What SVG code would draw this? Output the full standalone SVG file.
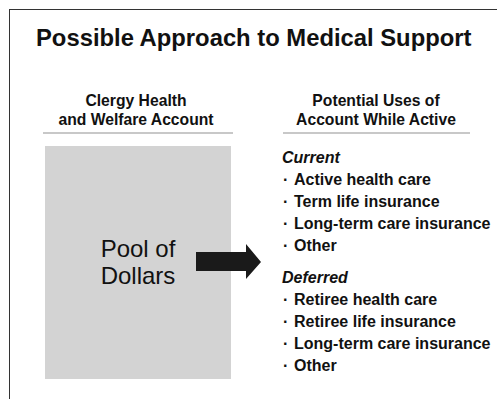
<svg xmlns="http://www.w3.org/2000/svg" width="497" height="399" viewBox="0 0 497 399">
<style>
text{font-family:"Liberation Sans",Arial,Helvetica,sans-serif;fill:#111}
.title{font-size:23.8px;font-weight:bold}
.hdr{font-size:15.7px;font-weight:bold;text-anchor:middle}
.cat{font-size:16px;font-weight:bold;font-style:italic}
.item{font-size:16px;font-weight:bold}
.pool{font-size:24px;text-anchor:middle}
.rule{stroke:#c8c8c8;stroke-width:2}
</style>
<rect x="9.5" y="9.5" width="500" height="400" fill="#fff" stroke="#333" stroke-width="1"/>
<text class="title" x="36" y="46">Possible Approach to Medical Support</text>
<g id="left-column">
<text class="hdr" x="136" y="106">Clergy Health</text>
<text class="hdr" x="136" y="125">and Welfare Account</text>
<line class="rule" x1="43" y1="133" x2="233" y2="133"/>
</g>
<g id="pool">
<rect x="45" y="146" width="186" height="233" fill="#d3d3d3"/>
<text class="pool" x="138" y="257">Pool of</text>
<text class="pool" x="138" y="284">Dollars</text>
</g>
<g id="connectors">
<path d="M196,252 H246 V244 L261,262 L246,279 V271 H196 Z" fill="#1a1a1a"/>
</g>
<g id="uses">
<text class="hdr" x="376" y="106">Potential Uses of</text>
<text class="hdr" x="376" y="125">Account While Active</text>
<line class="rule" x1="283" y1="133" x2="470" y2="133"/>
<text class="cat" x="282" y="163">Current</text>
<text class="item" x="283" y="185">· <tspan x="294">Active health care</tspan></text>
<text class="item" x="283" y="207">· <tspan x="294">Term life insurance</tspan></text>
<text class="item" x="283" y="229">· <tspan x="294">Long-term care insurance</tspan></text>
<text class="item" x="283" y="251">· <tspan x="294">Other</tspan></text>
<text class="cat" x="282" y="283">Deferred</text>
<text class="item" x="283" y="305">· <tspan x="294">Retiree health care</tspan></text>
<text class="item" x="283" y="327">· <tspan x="294">Retiree life insurance</tspan></text>
<text class="item" x="283" y="349">· <tspan x="294">Long-term care insurance</tspan></text>
<text class="item" x="283" y="371">· <tspan x="294">Other</tspan></text>
</g>
</svg>
